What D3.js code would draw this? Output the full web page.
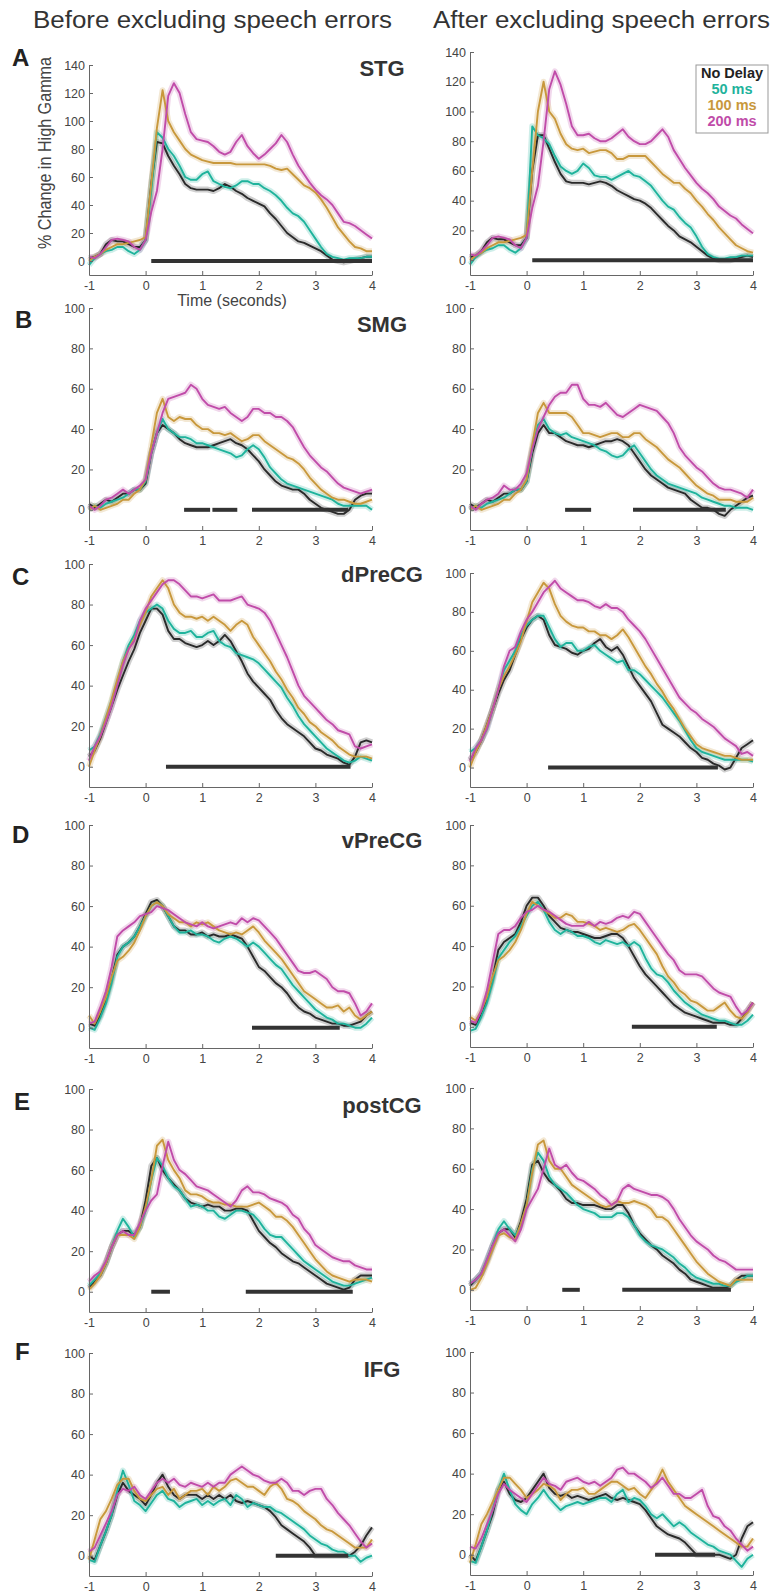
<!DOCTYPE html>
<html>
<head>
<meta charset="utf-8">
<script src="https://cdn.jsdelivr.net/npm/d3@7"></script>
<style>
  body { margin: 0; background: #fff; }
  svg { display: block; font-family: "Liberation Sans", Arial, Helvetica, sans-serif; }
</style>
</head>
<body>
<svg id="chart" width="774" height="1596"></svg>
<script>
// sample times, -1 to 4 s every 0.1 s
const times = d3.range(51).map(i => -1 + i / 10);
const xTicks = [-1, 0, 1, 2, 3, 4];
const conditions = ["No Delay", "50 ms", "100 ms", "200 ms"];
const rowLabels = ["STG", "SMG", "dPreCG", "vPreCG", "postCG", "IFG"];
const rowLetters = ["A", "B", "C", "D", "E", "F"];
const yMaxes = [140, 100, 100, 100, 100, 100];
const columnTitles = ["Before excluding speech errors", "After excluding speech errors"];

// each panel: [No Delay, 50 ms, 100 ms, 200 ms]
const stgBefore = [
  [2,3,5,12,15,14,14,12,10,10, 15,55,85,84,75,68,62,55,52,51, 51,51,50,52,55,53,50,48,45,43, 41,39,34,30,25,20,17,14,13,11, 9,7,4,1,0,-1,0,1,2,3, 3],
  [-3,2,5,7,8,10,10,7,5,8, 15,50,92,88,80,75,68,60,58,58, 62,64,57,55,53,52,54,57,57,55, 55,52,50,47,43,38,34,32,28,22, 16,10,5,3,2,1,2,2,2,3, 3],
  [0,3,5,8,10,12,12,13,14,15, 17,55,95,122,100,92,86,80,76,74, 72,71,70,70,70,70,69,69,69,69, 69,69,68,66,65,66,62,58,54,52, 49,44,38,31,24,19,14,10,9,7, 7],
  [3,2,5,10,15,16,15,14,10,8, 15,35,50,80,118,127,120,105,92,87, 86,85,82,78,76,78,85,90,82,77, 73,76,80,84,90,85,76,68,62,56, 51,47,44,40,34,28,27,25,22,19, 16]
];
const stgAfter = [
  [2,3,6,12,15,14,14,12,10,10, 15,60,84,84,75,66,58,53,52,52, 52,51,52,53,52,50,47,45,43,41, 40,38,35,31,27,23,20,16,14,12, 9,6,3,1,0,0,0,1,2,3, 2],
  [-3,2,5,7,8,10,10,7,5,8, 15,90,84,82,78,70,63,60,58,60, 65,62,57,56,56,54,56,58,60,57, 56,53,50,45,40,36,34,29,25,22, 16,9,4,2,1,1,2,2,3,3, 3],
  [0,3,5,8,10,12,12,13,14,15, 17,60,100,120,100,95,85,78,75,74, 75,72,73,74,74,72,68,68,70,70, 70,70,66,62,58,55,52,52,48,45, 40,36,31,27,22,18,14,10,8,6, 5],
  [4,3,6,10,15,16,15,14,10,8, 15,35,50,80,115,127,118,105,90,84, 84,85,82,80,80,82,85,88,83,80, 78,78,80,84,88,83,74,68,62,57, 52,48,45,41,36,33,30,28,24,21, 18]
];
const smgBefore = [
  [3,1,3,5,4,6,8,8,10,10, 13,28,38,42,40,38,35,33,32,31, 31,31,32,33,34,35,33,32,30,27, 24,20,17,14,12,11,10,10,8,5, 3,1,0,-1,-2,-2,0,5,7,8, 8],
  [0,2,1,3,4,5,6,8,10,10, 14,28,38,45,40,38,36,36,35,33, 33,32,31,30,29,28,26,27,30,32, 30,26,21,18,15,13,12,11,10,9, 8,7,6,5,3,2,2,2,2,2, 0],
  [0,2,0,1,2,3,5,5,8,10, 15,32,48,55,46,44,46,45,45,42, 40,40,38,38,37,38,36,34,35,37, 37,34,32,30,28,26,25,23,20,16, 13,10,8,6,5,5,4,3,3,4, 5],
  [2,0,2,5,6,8,10,8,10,12, 15,28,38,48,55,56,57,58,62,60, 55,52,51,50,51,48,46,44,46,50, 50,48,48,46,46,44,41,36,31,27, 24,21,19,16,13,11,10,9,8,9, 10]
];
const smgAfter = [
  [3,1,3,5,4,6,8,8,10,10, 14,28,38,42,38,38,36,34,33,32, 32,31,32,33,34,34,35,34,32,28, 24,20,17,15,13,11,10,9,8,5, 3,1,1,0,-2,-3,0,2,4,6, 7],
  [0,2,1,3,4,5,6,8,10,10, 14,30,42,45,40,38,37,38,36,35, 34,33,32,30,29,27,26,27,30,32, 28,24,20,17,15,13,12,11,10,9, 8,6,5,4,3,2,2,1,1,1, 0],
  [0,2,0,1,2,3,5,5,8,10, 15,32,48,53,48,48,48,48,46,42, 38,38,37,36,37,38,38,36,36,38, 38,35,33,31,28,25,23,21,18,15, 12,10,8,7,5,5,5,4,4,4, 6],
  [2,0,3,5,6,8,12,10,10,13, 18,30,40,46,52,56,58,58,62,62, 55,52,52,51,53,50,47,46,48,50, 52,51,50,49,46,43,38,31,27,24, 21,19,16,13,11,10,10,9,8,6, 10]
];
const dprecgBefore = [
  [5,8,14,22,30,38,45,52,58,66, 72,78,78,75,67,63,63,61,60,59, 60,62,60,62,65,62,57,52,46,42, 39,36,33,28,24,21,19,17,15,12, 9,8,6,5,4,2,1,5,12,13, 12],
  [8,10,16,24,32,42,52,60,65,72, 76,78,80,78,72,68,66,66,67,64, 64,66,67,62,60,59,56,55,54,53, 51,48,45,42,39,34,30,25,21,18, 15,12,9,7,5,3,2,3,5,4, 3],
  [0,8,15,24,33,43,52,58,63,70, 76,84,88,92,88,80,76,74,74,73, 74,72,74,72,70,67,70,72,70,64, 60,56,52,47,43,38,34,29,26,22, 20,17,15,13,10,8,6,5,5,5, 4],
  [3,10,15,22,30,40,50,58,62,72, 78,82,86,90,92,92,90,87,84,84, 83,84,85,82,82,82,83,84,80,79, 78,76,72,66,60,54,47,40,35,32, 29,26,23,21,18,17,16,10,9,10, 11]
];
const dprecgAfter = [
  [4,8,14,22,30,38,45,50,58,66, 72,76,78,76,68,63,62,61,59,58, 60,61,64,66,62,60,62,58,52,46, 42,38,34,28,22,20,18,16,13,10, 8,5,4,2,1,-1,0,5,10,12, 14],
  [8,10,14,20,30,40,50,55,60,68, 73,76,78,78,72,66,62,64,64,60, 60,62,63,60,58,56,54,55,50,50, 48,45,42,39,36,32,28,24,19,14, 10,8,7,6,5,4,4,4,4,4, 3],
  [0,8,14,22,30,40,47,52,58,65, 75,85,90,95,92,84,78,75,73,72, 72,70,70,68,68,66,68,71,67,62, 57,52,48,43,39,34,30,25,20,16, 12,10,9,8,7,6,6,5,4,4, 4],
  [3,10,14,20,30,40,52,60,62,70, 76,80,85,90,93,96,92,90,88,86, 86,85,83,82,84,82,82,80,76,73, 70,66,61,56,51,46,41,36,33,30, 28,25,23,21,18,15,13,11,7,8, 6]
];
const vprecgBefore = [
  [2,1,6,14,24,36,40,42,45,50, 56,62,63,60,55,50,48,48,46,46, 47,45,46,45,45,46,45,44,40,35, 30,28,25,22,20,17,13,10,8,7, 5,4,3,2,2,1,1,2,3,6, 8],
  [0,-1,5,12,22,35,40,42,45,50, 55,60,62,60,55,50,47,47,48,46, 46,45,43,42,44,45,44,42,40,42, 40,37,34,31,29,25,21,18,15,12, 9,7,5,4,2,2,1,0,0,2, 5],
  [6,2,8,15,25,33,35,38,42,48, 55,60,62,60,56,54,52,52,50,52, 51,52,50,48,47,46,47,46,48,50, 47,43,40,37,34,30,26,22,18,16, 14,12,10,10,11,8,10,6,4,6, 8],
  [2,3,10,18,30,45,48,50,52,55, 56,57,60,59,58,56,54,52,51,50, 52,50,49,50,51,52,51,54,52,54, 53,50,47,44,40,36,32,28,27,27, 28,26,24,20,18,18,17,12,6,8, 12]
];
const vprecgAfter = [
  [2,1,6,14,24,38,42,44,46,52, 60,64,64,60,55,52,49,48,47,47, 46,45,44,44,45,46,46,44,40,35, 30,26,23,20,17,14,11,9,7,6, 5,4,3,2,2,2,1,1,4,8, 12],
  [-2,-1,5,12,22,34,38,42,45,50, 55,60,62,58,52,48,46,48,47,45, 45,44,42,41,43,42,41,42,40,42, 40,34,29,26,25,22,18,15,12,10, 8,6,5,4,3,3,2,1,1,3, 6],
  [5,3,8,15,25,33,35,38,42,48, 56,62,60,58,56,54,54,56,55,52, 52,51,50,48,49,48,47,48,50,51, 48,44,40,36,30,25,22,18,16,13, 12,10,8,8,10,12,8,5,4,7, 12],
  [3,2,8,18,32,46,48,48,50,54, 57,58,60,58,57,55,53,51,50,50, 50,52,50,52,51,52,54,55,54,57, 56,52,48,44,40,36,33,28,26,26, 26,25,22,19,17,16,15,10,6,8, 12]
];
const postcgBefore = [
  [2,5,8,14,22,28,30,30,28,32, 45,62,66,60,56,53,50,46,44,43, 42,43,42,42,40,40,41,41,40,35, 30,27,24,22,19,17,15,14,12,10, 8,6,4,3,2,1,2,6,8,8, 8],
  [3,6,9,14,22,30,36,32,27,32, 40,55,66,62,56,52,50,46,42,43, 42,40,40,37,36,38,40,40,39,38, 35,31,28,27,27,24,21,18,15,13, 11,9,7,5,4,3,3,4,5,6, 7],
  [1,4,8,14,22,28,28,28,26,32, 42,55,72,75,65,60,56,50,48,48, 47,45,44,44,43,43,42,42,42,43, 44,42,40,37,37,35,32,28,24,20, 16,13,10,8,7,6,5,6,6,6, 5],
  [5,8,10,15,22,28,30,28,28,34, 40,45,48,62,74,65,60,58,55,52, 51,50,48,46,44,42,45,50,52,49, 49,48,46,45,44,42,38,36,31,28, 23,21,19,17,16,15,15,13,12,11, 11]
];
const postcgAfter = [
  [2,5,8,14,22,28,30,30,26,34, 45,62,64,58,54,52,49,45,43,43, 42,42,42,41,40,40,42,42,38,32, 28,25,22,20,17,15,13,10,8,5, 4,3,2,1,1,1,2,5,7,7, 7],
  [3,5,8,15,22,30,34,30,27,32, 42,60,68,64,56,52,50,48,45,42, 40,39,38,36,36,36,38,38,36,32, 27,24,22,21,20,18,16,13,11,8, 6,5,4,3,3,2,2,4,5,7, 7],
  [0,1,6,13,20,27,28,26,25,33, 42,58,72,74,64,60,60,56,52,50, 48,46,44,42,41,42,44,43,43,44, 43,42,40,36,36,34,30,26,22,18, 14,11,8,6,4,3,2,5,5,5, 5],
  [3,5,8,15,22,28,30,27,24,30, 40,45,50,60,70,62,60,62,58,55, 54,52,50,47,45,42,44,50,52,50, 49,48,47,47,46,44,40,35,31,27, 24,22,20,17,15,14,12,10,10,10, 10]
];
const ifgBefore = [
  [0,-2,5,12,20,30,36,32,30,28, 25,30,36,40,34,30,28,30,30,30, 28,30,28,30,28,30,27,26,27,26, 25,24,22,19,15,13,11,9,7,4, 0,0,0,0,0,0,0,2,5,10, 14],
  [-2,-3,5,12,20,32,42,35,27,25, 22,26,30,32,28,27,24,26,27,28, 25,27,25,27,28,25,30,28,24,26, 25,24,24,22,21,19,17,15,13,10, 8,6,5,3,2,2,0,0,-3,-1, 0],
  [-2,8,18,22,28,35,38,38,32,28, 27,30,33,34,30,33,28,30,32,32, 33,30,34,32,34,37,38,36,34,34, 32,30,34,36,33,28,27,25,22,20, 18,15,13,12,10,8,6,4,4,4, 8],
  [2,4,10,16,22,30,33,32,34,30, 28,32,36,38,36,38,35,34,36,35, 34,36,34,36,36,40,42,44,42,40, 39,37,36,36,38,36,32,32,30,32, 33,33,28,25,21,18,15,11,7,4, 6]
];
const ifgAfter = [
  [0,-3,4,12,20,32,36,30,27,26, 28,32,36,40,33,30,29,30,28,29, 28,27,28,29,30,28,27,28,27,26, 25,22,18,14,12,10,9,8,6,3, 0,0,0,0,0,-1,-2,0,8,14, 16],
  [-3,-4,4,12,22,32,40,32,25,22, 20,25,28,32,28,25,22,24,25,26, 25,26,27,28,28,26,30,32,26,28, 27,24,20,18,20,17,14,16,14,11, 9,7,5,4,2,1,0,-3,-6,-2, 0],
  [-4,5,15,20,26,32,38,38,35,32, 28,30,32,35,34,32,27,30,32,32, 33,30,30,32,34,36,36,34,32,33, 30,28,32,36,42,36,32,28,24,22, 20,18,16,14,12,10,8,6,4,4, 8],
  [4,3,8,15,22,30,35,32,30,28, 26,30,34,38,35,34,32,36,37,38, 36,35,36,34,36,38,42,43,40,40, 38,36,33,35,38,34,30,30,28,28, 30,32,24,19,18,14,12,8,5,2, 4]
];

// significance bars [start, end] in seconds
const sigBefore = [
  [[0.1, 4.0]],
  [[0.68, 1.14], [1.18, 1.62], [1.88, 3.58]],
  [[0.36, 3.62]],
  [[1.88, 3.43]],
  [[0.1, 0.43], [1.77, 3.66]],
  [[2.3, 3.58]]
];
const sigAfter = [
  [[0.1, 4.0]],
  [[0.68, 1.14], [1.88, 3.52]],
  [[0.38, 3.38]],
  [[1.86, 3.36]],
  [[0.63, 0.94], [1.69, 3.61]],
  [[2.27, 3.33]]
];

const before = [stgBefore, smgBefore, dprecgBefore, vprecgBefore, postcgBefore, ifgBefore];
const after = [stgAfter, smgAfter, dprecgAfter, vprecgAfter, postcgAfter, ifgAfter];

// layout in pixels
const colors = ["#2a2a2a", "#1fb39c", "#c8983c", "#c04ca9"];
const colX = [[89, 372], [470, 753]];
const rowY = [
  [[65, 275], [52, 275]],
  [[308, 530], [308, 530]],
  [[564, 787], [573, 787]],
  [[825, 1048], [825, 1047]],
  [[1089, 1312], [1088, 1310]],
  [[1353, 1576], [1352, 1575]]
];
const letterPos = [[12, 66], [15, 328], [12, 585], [12, 843], [14, 1110], [15, 1360]];
const labelY = [76, 332, 582, 848, 1113, 1377];

const svg = d3.select("#chart");

function drawPanel(series, ymax, sig, xr, yr) {
  var x = d3.scaleLinear().domain([-1, 4]).range(xr);
  var y = d3.scaleLinear().domain([-10, ymax]).range([yr[1], yr[0]]);
  var g = svg.append("g");

  var line = d3.line()
    .x(function(d, i) { return x(times[i]); })
    .y(function(d) { return y(d); });

  // light error band under each line
  series.forEach(function(s, k) {
    g.append("path")
      .datum(s)
      .attr("fill", "none")
      .attr("stroke", colors[k])
      .attr("stroke-opacity", 0.22)
      .attr("stroke-width", 6)
      .attr("stroke-linejoin", "round")
      .attr("d", line);
  });
  series.forEach(function(s, k) {
    g.append("path")
      .datum(s)
      .attr("fill", "none")
      .attr("stroke", colors[k])
      .attr("stroke-width", 1.9)
      .attr("stroke-linejoin", "round")
      .attr("d", line);
  });

  sig.forEach(function(seg) {
    g.append("line")
      .attr("x1", x(seg[0])).attr("x2", x(seg[1]))
      .attr("y1", y(0)).attr("y2", y(0))
      .attr("stroke", "#333")
      .attr("stroke-width", 4);
  });

  var ax = g.append("g")
    .attr("transform", "translate(0," + yr[1] + ")")
    .call(d3.axisBottom(x).tickValues(xTicks).tickSize(-4).tickSizeOuter(0)
      .tickPadding(6).tickFormat(function(d) { return String(d); }));
  var ay = g.append("g")
    .attr("transform", "translate(" + xr[0] + ",0)")
    .call(d3.axisLeft(y).tickValues(d3.range(0, ymax + 1, 20)).tickSize(-4).tickSizeOuter(0)
      .tickPadding(4));
  [ax, ay].forEach(function(a) {
    a.selectAll(".domain").attr("stroke", "#666");
    a.selectAll(".tick line").attr("stroke", "#666");
    a.selectAll(".tick text").attr("fill", "#444").style("font-size", "12.5px")
      .style("font-family", "'Liberation Sans', Arial, sans-serif");
  });
}

for (var r = 0; r < 6; r++) {
  drawPanel(before[r], yMaxes[r], sigBefore[r], colX[0], rowY[r][0]);
  drawPanel(after[r], yMaxes[r], sigAfter[r], colX[1], rowY[r][1]);

  svg.append("text")
    .attr("x", letterPos[r][0]).attr("y", letterPos[r][1])
    .attr("font-size", 24).attr("font-weight", "bold").attr("fill", "#222")
    .text(rowLetters[r]);
  svg.append("text")
    .attr("x", 382).attr("y", labelY[r])
    .attr("text-anchor", "middle")
    .attr("font-size", 22).attr("font-weight", "bold").attr("fill", "#333")
    .text(rowLabels[r]);
}

// column titles
svg.append("text").attr("x", 33).attr("y", 28)
  .attr("font-size", 23).attr("fill", "#333")
  .attr("textLength", 359).attr("lengthAdjust", "spacingAndGlyphs")
  .text(columnTitles[0]);
svg.append("text").attr("x", 433).attr("y", 28)
  .attr("font-size", 23).attr("fill", "#333")
  .attr("textLength", 337).attr("lengthAdjust", "spacingAndGlyphs")
  .text(columnTitles[1]);

// axis titles on panel A
svg.append("text")
  .attr("transform", "translate(51,153) rotate(-90)")
  .attr("text-anchor", "middle")
  .attr("font-size", 17.5).attr("fill", "#444")
  .attr("textLength", 192).attr("lengthAdjust", "spacingAndGlyphs")
  .text("% Change in High Gamma");
svg.append("text")
  .attr("x", 232).attr("y", 306)
  .attr("text-anchor", "middle")
  .attr("font-size", 16).attr("fill", "#444")
  .text("Time (seconds)");

// legend
var lg = svg.append("g");
lg.append("rect")
  .attr("x", 696).attr("y", 65).attr("width", 72).attr("height", 68)
  .attr("fill", "#fff").attr("stroke", "#999").attr("stroke-width", 1);
conditions.forEach(function(c, k) {
  lg.append("text")
    .attr("x", 732).attr("y", 78 + k * 16)
    .attr("text-anchor", "middle")
    .attr("font-size", 14.5).attr("font-weight", "bold")
    .attr("fill", k === 0 ? "#222" : colors[k])
    .text(c);
});
</script>
</body>
</html>
